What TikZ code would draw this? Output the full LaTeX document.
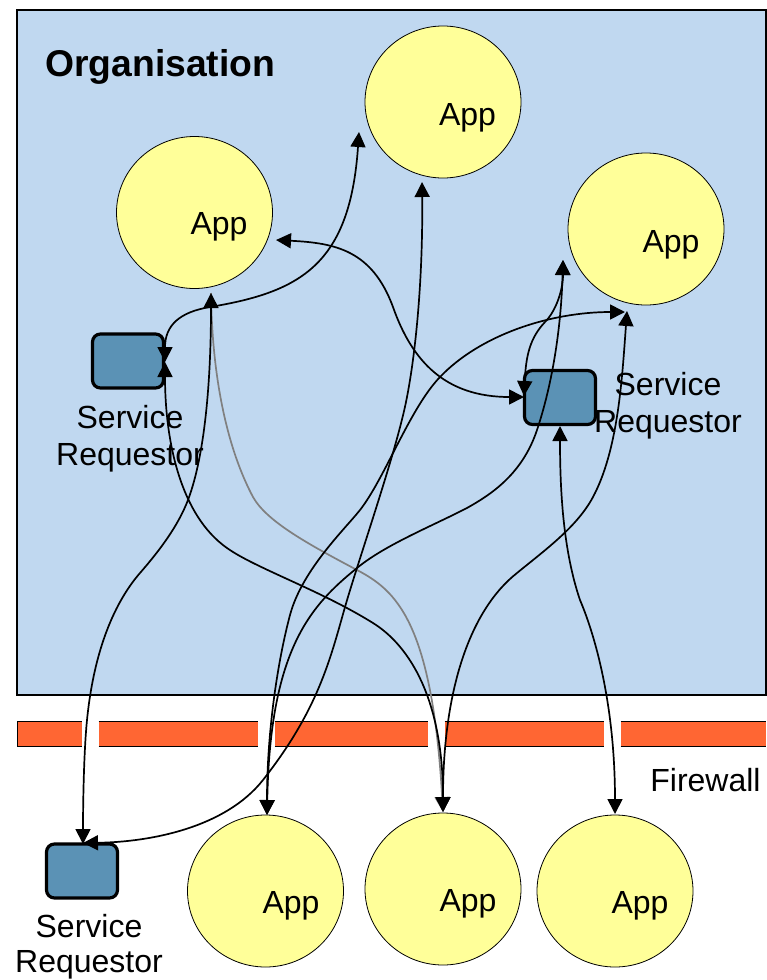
\documentclass[tikz,border=0pt]{standalone}
\usepackage{fontspec}
\setmainfont{Liberation Sans}
\usetikzlibrary{arrows.meta,shapes.geometric}
\definecolor{orgblue}{HTML}{C0D8F0}
\definecolor{appyellow}{HTML}{FFFF99}
\definecolor{srblue}{HTML}{5B92B5}
\definecolor{wallorange}{HTML}{FF6633}
\tikzset{
  x=1pt,y=-1pt,
  app/.style={draw=black,line width=0.8pt,fill=appyellow,ellipse,inner sep=0pt,minimum width=156pt,minimum height=152pt},
  reqbox/.style={draw=black,line width=3.2pt,fill=srblue,rounded corners=8pt,inner sep=0pt,minimum width=71pt,minimum height=54pt},
  wallfill/.style={fill=wallorange,draw=none},
  wallline/.style={draw=black,line width=1pt},
  lbl/.style={font=\fontsize{32}{37}\selectfont,align=center,inner sep=0pt,text=black},
  lblt/.style={font=\fontsize{32}{35}\selectfont,align=center,inner sep=0pt,text=black},
  conn/.style={line width=1.7pt,draw=black,{Triangle[length=15pt,width=15pt]}-{Triangle[length=15pt,width=15pt]}},
  greyconn/.style={line width=1.7pt,draw=gray,-{Triangle[length=15pt,width=15pt,fill=black]}},
}
\begin{document}
\begin{tikzpicture}
\useasboundingbox (0,0) rectangle (766,980);
\fill[white] (0,0) rectangle (766,980);
\draw[draw=black,line width=1.2pt,fill=orgblue] (17,10) rectangle (766,695);
\foreach \a/\b in {17/82,98.5/258,274.5/428,444.5/604,620.5/766}{
  \fill[wallfill] (\a,721) rectangle (\b,746);
  \draw[wallline] (\a,721) -- (\b,721) (\a,746) -- (\b,746);
}
\draw[wallline] (17,721) -- (17,746);
% apps
\node[app] (appc) at (443,102) {};
\node[app] (appl) at (194.5,212.5) {};
\node[app] (appr) at (646,229) {};
\node[app] (appb1) at (265.5,891) {};
\node[app] (appb2) at (443,889) {};
\node[app] (appb3) at (615,891) {};
% requestors
\node[reqbox] (sra) at (128,361) {};
\node[reqbox] (srb) at (560,397.5) {};
\node[reqbox] (src) at (82,871) {};
% connector ends
\coordinate (ea1) at (165,362);
\coordinate (ea2) at (359,132);
\coordinate (eb1) at (276,240);
\coordinate (eb2) at (524,397);
\coordinate (ec1) at (211,293);
\coordinate (ec2) at (83,844);
\coordinate (ed1) at (422,182);
\coordinate (ed2) at (83,843);
\coordinate (ee2) at (443,812);
\coordinate (ef1) at (625,312);
\coordinate (ef2) at (267,815);
\coordinate (eg1) at (563,260);
\coordinate (eh1) at (524,396);
\coordinate (ei1) at (627,311);
\coordinate (ej1) at (560,426);
\coordinate (ej2) at (615,814);
% connectors
\draw[greyconn] (ec1) .. controls (212,380) and (228,450) .. (253,497) .. controls (267,522) and (310,545) .. (357,570) .. controls (395,590) and (432,620) .. (ee2);
\draw[conn] (ea1) .. controls (165,325) and (180,312) .. (210,307) .. controls (300,292) and (350,265) .. (ea2);
\draw[conn] (eb1) .. controls (335,243) and (372,250) .. (393,307) .. controls (412,361) and (445,397) .. (eb2);
\draw[conn] (ec1) .. controls (211,380) and (205,455) .. (188,500) .. controls (178,526) and (160,550) .. (140,573) .. controls (120,596) and (95,640) .. (87,720) .. controls (84,750) and (83,800) .. (ec2);
\draw[conn] (ed1) .. controls (423,270) and (417,345) .. (407,397) .. controls (397,450) and (360,555) .. (345,607) .. controls (330,660) and (318,710) .. (263,780) .. controls (225,828) and (150,842) .. (ed2);
\draw[conn] (ea1) .. controls (165,440) and (180,515) .. (227,548) .. controls (255,568) and (320,590) .. (373,623) .. controls (410,646) and (443,700) .. (ee2);
\draw[conn] (ef1) .. controls (550,312) and (480,335) .. (440,377) .. controls (410,408) and (385,478) .. (360,510) .. controls (345,529) and (302,570) .. (290,615) .. controls (278,660) and (267,730) .. (ef2);
\draw[conn] (eg1) .. controls (561,330) and (552,385) .. (537,430) .. controls (522,475) and (490,495) .. (467,508) .. controls (430,527) and (385,545) .. (357,568) .. controls (310,606) and (270,650) .. (ef2);
\draw[conn] (eh1) .. controls (526,355) and (530,338) .. (545,322) .. controls (556,311) and (563,290) .. (eg1);
\draw[conn] (ei1) .. controls (622,380) and (618,450) .. (593,497) .. controls (577,527) and (545,550) .. (517,573) .. controls (470,610) and (443,690) .. (ee2);
\draw[conn] (ej1) .. controls (560,490) and (563,550) .. (580,600) .. controls (597,640) and (615,710) .. (ej2);
% labels
\node[font=\fontsize{37.3}{40}\selectfont\bfseries,anchor=west,inner sep=0pt] (org) at (45,67) {Organisation};
\node[lbl] (ta1) at (467.5,118) {App};
\node[lbl] (ta2) at (219,227) {App};
\node[lbl] (ta3) at (671,245) {App};
\node[lbl] (ta4) at (291,906) {App};
\node[lbl] (ta5) at (468,904) {App};
\node[lbl] (ta6) at (640,906) {App};
\node[lbl] (ts1) at (130,439) {Service\\Requestor};
\node[lbl] (ts2) at (668,406) {Service\\Requestor};
\node[lblt] (ts3) at (89,947) {Service\\Requestor};
\node[lbl] (tf) at (705.5,780) {Firewall};
\end{tikzpicture}
\end{document}
